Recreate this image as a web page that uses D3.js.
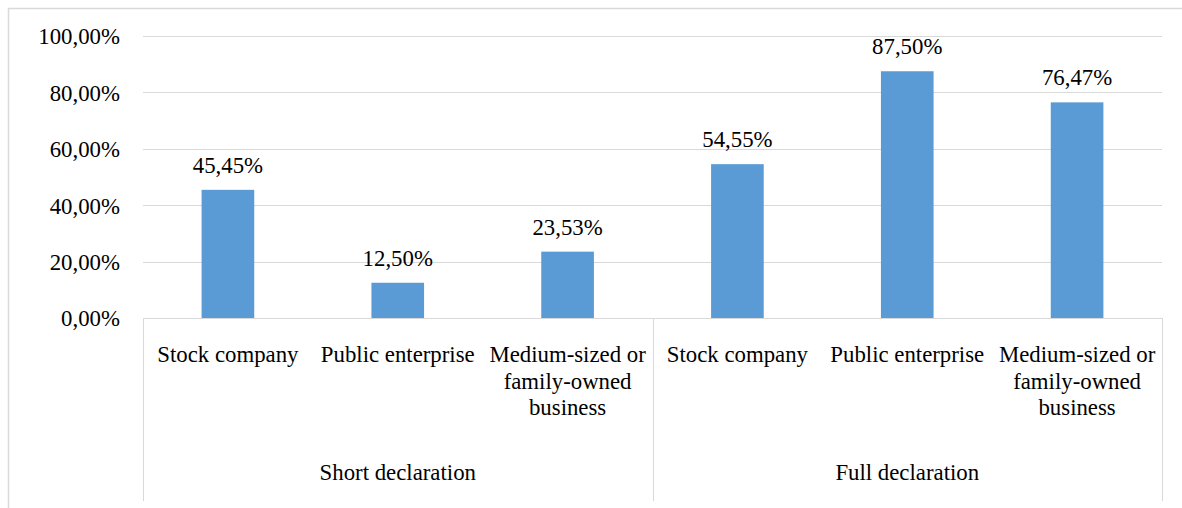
<!DOCTYPE html>
<html>
<head>
<meta charset="utf-8">
<script src="https://cdn.jsdelivr.net/npm/d3@7"></script>
<style>
  body { margin: 0; background: #fff; }
</style>
</head>
<body>
<div id="chart"></div>
<script>
// chart data
const groups = ["Short declaration", "Full declaration"];
const categories = ["Stock company", "Public enterprise", "Medium-sized or family-owned business"];
const categoryLines = [["Stock company"], ["Public enterprise"], ["Medium-sized or", "family-owned", "business"]];
const values = [
    [45.45, 12.50, 23.53],   // Short declaration
    [54.55, 87.50, 76.47]    // Full declaration
];
const yTicks = [0, 20, 40, 60, 80, 100];

const FONT = "'Liberation Serif', 'Times New Roman', Tinos, serif";
const FS = "22.8px";

const W = 1182, H = 508;
const margin = {top: 36, right: 20, bottom: 190, left: 143};
const width = 1162 - margin.left;
const height = 318 - margin.top;

const svg = d3.select("#chart").append("svg")
    .attr("width", W)
    .attr("height", H)
    .attr("font-family", FONT);

// outer frame (top and left edges visible)
svg.append("path")
    .attr("d", "M8.5," + H + "V8.5H" + W)
    .attr("fill", "none")
    .attr("stroke", "#d9d9d9")
    .attr("stroke-width", 1.5);

const g = svg.append("g")
    .attr("transform", "translate(" + margin.left + "," + margin.top + ")");

// flatten rows
const rows = [];
groups.forEach((grp, gi) => {
    categories.forEach((cat, ci) => {
        rows.push({key: gi + "-" + ci, group: grp, gi: gi, ci: ci, value: values[gi][ci]});
    });
});

const x = d3.scaleBand()
    .domain(rows.map(d => d.key))
    .range([0, width]);

const y = d3.scaleLinear()
    .domain([0, 100])
    .range([height, 0]);

// gridlines
g.selectAll(".grid")
    .data(yTicks.filter(t => t > 0))
    .enter()
    .append("line")
    .attr("class", "grid")
    .attr("x1", 0)
    .attr("x2", width)
    .attr("y1", d => Math.round(y(d)) + 0.5)
    .attr("y2", d => Math.round(y(d)) + 0.5)
    .attr("stroke", "#d9d9d9")
    .attr("stroke-width", 1);

// y axis labels
const fmt = d => d3.format(".2f")(d).replace(".", ",") + "%";
const yAxis = d3.axisLeft(y)
    .tickValues(yTicks)
    .tickSize(0)
    .tickPadding(23)
    .tickFormat(fmt);
g.append("g")
    .call(yAxis)
    .attr("font-family", FONT)
    .attr("font-size", FS)
    .call(a => a.select(".domain").remove())
    .selectAll("text")
    .attr("fill", "#000")
    .attr("dy", "0.35em");

// bars
const barW = x.bandwidth() * 0.31;
g.selectAll(".bar")
    .data(rows)
    .enter()
    .append("rect")
    .attr("class", "bar")
    .attr("x", d => x(d.key) + (x.bandwidth() - barW) / 2)
    .attr("y", d => y(d.value))
    .attr("width", barW)
    .attr("height", d => y(0) - y(d.value))
    .attr("fill", "#5b9bd5");

// value labels
g.selectAll(".val")
    .data(rows)
    .enter()
    .append("text")
    .attr("class", "val")
    .attr("x", d => x(d.key) + x.bandwidth() / 2)
    .attr("y", d => y(d.value) - 17)
    .attr("text-anchor", "middle")
    .attr("font-size", FS)
    .text(d => fmt(d.value));

// category axis line
g.append("line")
    .attr("x1", 0).attr("x2", width)
    .attr("y1", height + 0.5).attr("y2", height + 0.5)
    .attr("stroke", "#d9d9d9");

// group separators
const groupEdges = [0, 3, 6].map(i => i < 6 ? x(rows[i].key) : width);
g.selectAll(".sep")
    .data(groupEdges)
    .enter()
    .append("line")
    .attr("class", "sep")
    .attr("x1", d => Math.round(d) + 0.5)
    .attr("x2", d => Math.round(d) + 0.5)
    .attr("y1", height)
    .attr("y2", 501 - margin.top)
    .attr("stroke", "#d9d9d9");

// category labels
const lineH = 26.5;
const catText = g.selectAll(".cat")
    .data(rows)
    .enter()
    .append("text")
    .attr("class", "cat")
    .attr("text-anchor", "middle")
    .attr("transform", d => "translate(" + (x(d.key) + x.bandwidth() / 2) + "," + (362 - margin.top) + ")")
    .attr("font-size", FS);
catText.selectAll("tspan")
    .data(d => categoryLines[d.ci])
    .enter()
    .append("tspan")
    .attr("x", 0)
    .attr("y", (d, i) => i * lineH)
    .text(d => d);

// group labels
g.selectAll(".grp")
    .data(groups)
    .enter()
    .append("text")
    .attr("class", "grp")
    .attr("text-anchor", "middle")
    .attr("x", (d, i) => (groupEdges[i] + groupEdges[i + 1]) / 2)
    .attr("y", 480 - margin.top)
    .attr("font-size", FS)
    .text(d => d);
</script>
</body>
</html>
